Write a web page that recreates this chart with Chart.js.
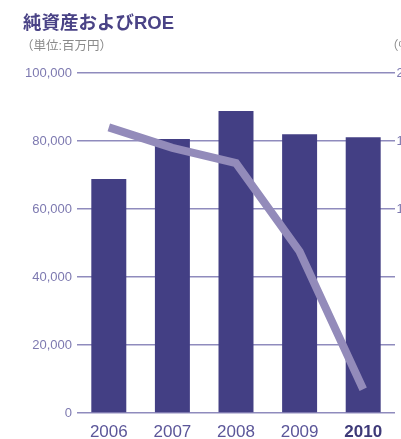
<!DOCTYPE html>
<html>
<head>
<meta charset="utf-8">
<script src="https://cdn.jsdelivr.net/npm/chart.js@4"></script>
<style>
  html, body { margin: 0; padding: 0; background: #fff; overflow: hidden; }
  #wrap { position: relative; width: 401px; height: 439px; overflow: hidden; }
  #chartDisplay { position: absolute; left: 0; top: 0; }
  .title { position: absolute; left: 23px; top: 8px; font: bold 18.5px "Liberation Sans", "Noto Sans CJK JP", sans-serif; color: #4a4386; white-space: nowrap; }
  .unit { position: absolute; top: 35px; font: 12.5px "Liberation Sans", "Noto Sans CJK JP", sans-serif; color: #8a8a8a; white-space: nowrap; }
</style>
</head>
<body>
<div id="wrap">
  <canvas id="chartDisplay" width="411" height="439"></canvas>
  <div class="title">純資産およびROE</div>
  <div class="unit" style="left:21px">（単位:百万円）</div>
  <div class="unit" style="left:386px">（%）</div>
</div>
<script>
const years = ['2006', '2007', '2008', '2009', '2010'];
const netAssets = [68800, 80600, 88800, 82000, 81100]; // 百万円
const roe = [16.8, 15.6, 14.7, 9.5, 1.4];               // %
const leftTicks = [0, 20000, 40000, 60000, 80000, 100000];
const rightTicks = [0, 4, 8, 12, 16, 20];

const chartDisplay = document.getElementById('chartDisplay');

// fixed axis widths so the plot lines up with the page layout
function fixWidth(w) {
  return function(scale) { scale.width = w; };
}

let chart = new Chart(chartDisplay, {
  type: 'bar',
  data: {
    labels: years,
    datasets: [{
      type: 'line',
      label: 'ROE',
      data: roe,
      yAxisID: 'y1',
      borderColor: '#938bba',
      borderWidth: 8,
      borderCapStyle: 'butt',
      borderJoinStyle: 'miter',
      pointRadius: 0,
      tension: 0,
      order: 0
    }, {
      label: '純資産',
      data: netAssets,
      yAxisID: 'y',
      backgroundColor: '#433f84',
      barPercentage: 0.55,
      categoryPercentage: 1,
      order: 1
    }]
  },
  options: {
    responsive: false,
    animation: false,
    layout: { padding: { top: 73, left: 0, right: 0, bottom: 0 } },
    plugins: {
      legend: { display: false },
      tooltip: { enabled: false }
    },
    scales: {
      x: {
        grid: { display: false },
        border: { display: false },
        afterFit: function(scale) { scale.height = 26; },
        ticks: {
          padding: 1,
          color: function(ctx) { return ctx.index === 4 ? '#3e3a78' : '#5b5699'; },
          font: function(ctx) {
            return {
              family: '"Liberation Sans", sans-serif',
              size: 17,
              weight: ctx.index === 4 ? 'bold' : 'normal'
            };
          }
        }
      },
      y: {
        position: 'left',
        min: 0,
        max: 100000,
        afterBuildTicks: function(scale) { scale.ticks = leftTicks.map(v => ({ value: v })); },
        afterFit: fixWidth(77),
        grid: { color: '#8f8bbd', lineWidth: 1.5, drawTicks: false },
        border: { display: false },
        ticks: {
          padding: 5,
          color: '#7d79b0',
          font: { family: '"Liberation Sans", sans-serif', size: 13 },
          callback: function(v) { return v.toLocaleString('en-US'); }
        }
      },
      y1: {
        position: 'right',
        min: 0,
        max: 20,
        afterBuildTicks: function(scale) { scale.ticks = rightTicks.map(v => ({ value: v })); },
        afterFit: fixWidth(16),
        grid: { display: false, drawTicks: false },
        border: { display: false },
        ticks: {
          padding: 0,
          crossAlign: 'far',
          color: '#7d79b0',
          font: { family: '"Liberation Sans", sans-serif', size: 13 }
        }
      }
    }
  }
});
</script>
</body>
</html>
